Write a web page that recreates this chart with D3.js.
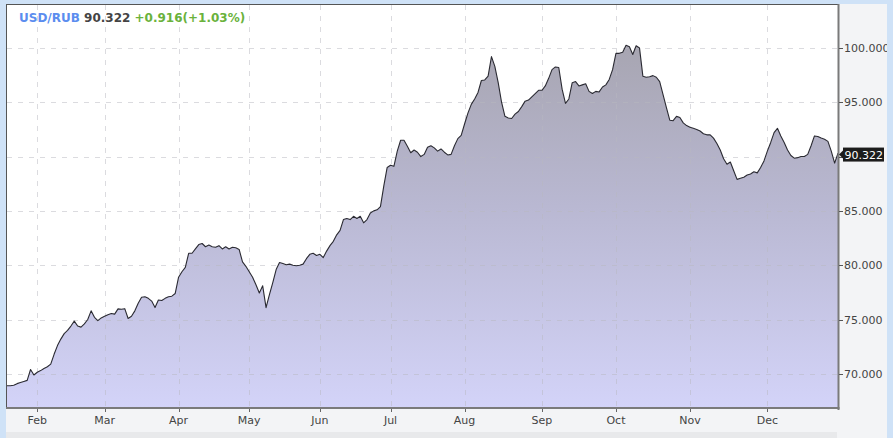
<!DOCTYPE html>
<html><head><meta charset="utf-8">
<script src="https://cdn.jsdelivr.net/npm/d3@7"></script>
<style>body{margin:0;background:#cfe2f7;overflow:hidden} svg{display:block}</style>
</head><body><svg id="c" width="893" height="438"></svg>
<script>
const pair = "USD/RUB";
const lastPrice = "90.322";
const change = "+0.916(+1.03%)";
const yearLabel = "2023";
const monthLabels = ["Jan","Feb","Mar","Apr","May","Jun","Jul","Aug","Sep","Oct","Nov","Dec"];
const jan = [68.9, 68.9, 68.95, 69.1, 69.2, 69.3, 69.4, 70.4, 69.9];
const feb = [70.15, 70.3, 70.5, 70.65, 70.9, 71.8, 72.6, 73.2, 73.7, 74.0, 74.4, 74.85, 74.4, 74.3, 74.6, 75.0, 75.8, 75.2, 74.9, 75.15];
const mar = [75.3, 75.45, 75.55, 75.5, 75.98, 75.95, 76.0, 75.1, 75.3, 75.8, 76.5, 77.05, 77.1, 76.95, 76.7, 76.1, 76.8, 76.75, 76.95, 77.1, 77.15, 77.4];
const apr = [78.9, 79.4, 79.8, 81.1, 81.1, 81.5, 81.9, 82.0, 81.7, 81.85, 81.7, 81.65, 81.8, 81.5, 81.7, 81.5, 81.65, 81.6, 81.45, 80.3, 79.9];
const may = [79.4, 78.9, 78.2, 77.45, 78.1, 76.1, 77.3, 78.4, 79.6, 80.25, 80.15, 80.05, 80.1, 80.0, 79.95, 80.0, 80.1, 80.6, 81.0, 81.1, 80.9];
const jun = [81.0, 80.7, 81.3, 81.8, 82.2, 82.8, 83.2, 84.2, 84.3, 84.2, 84.5, 84.3, 84.5, 83.9, 84.2, 84.8, 85.0, 85.1, 85.4, 87.3, 89.0];
const jul = [89.2, 89.1, 90.5, 91.5, 91.5, 90.95, 90.35, 90.6, 90.4, 90.0, 90.2, 90.85, 91.0, 90.8, 90.5, 90.7, 90.4, 90.15, 90.2, 91.0, 91.65, 91.95];
const aug = [93.0, 94.0, 94.8, 95.3, 95.9, 97.0, 97.05, 97.4, 99.2, 98.3, 96.8, 95.0, 93.7, 93.55, 93.5, 93.9, 94.15, 94.6, 95.1, 95.2, 95.5, 95.8, 96.1];
const sep = [96.1, 96.5, 97.2, 98.0, 98.25, 98.2, 96.2, 94.9, 95.3, 96.8, 96.9, 96.5, 96.6, 96.7, 96.0, 95.8, 96.0, 95.95, 96.4, 96.6, 97.1, 98.0];
const oct = [99.5, 99.5, 99.6, 100.25, 100.1, 99.4, 100.2, 100.0, 97.4, 97.3, 97.35, 97.45, 97.3, 96.9, 95.7, 94.5, 93.35, 93.3, 93.7, 93.6, 93.1, 92.85];
const nov = [92.7, 92.6, 92.5, 92.35, 92.1, 92.0, 92.0, 91.7, 91.2, 90.6, 89.8, 89.3, 89.5, 88.7, 87.9, 88.0, 88.1, 88.3, 88.4, 88.6, 88.5, 89.0, 89.6];
const dec = [90.5, 91.3, 92.2, 92.6, 91.9, 91.3, 90.6, 90.1, 89.85, 89.9, 90.0, 90.0, 90.2, 91.0, 91.9, 91.85, 91.7, 91.6, 91.4, 90.5, 89.4, 90.322];
const yTicks = [70, 75, 80, 85, 90, 95, 100];

const months = [jan, feb, mar, apr, may, jun, jul, aug, sep, oct, nov, dec];
const data = [];
const monthStarts = [];
months.forEach((arr, m) => {
  monthStarts.push({label: monthLabels[m], i: data.length});
  arr.forEach(v => data.push({i: data.length, v}));
});
const N = data.length;
const last = data[N - 1];

const svg = d3.select("#c");
const W = 893, H = 438;
const L = 7, R = 838, T = 5, B = 407;
const FONT = "DejaVu Sans, sans-serif";

const x = d3.scaleLinear().domain([0, N - 1]).range([L, R]);
const y = d3.scaleLinear().domain([66.95, 103.95]).range([B, T]);

// panels
svg.append("rect").attr("x", 0).attr("y", 0).attr("width", W).attr("height", H).attr("fill", "#cfe2f7");
svg.append("rect").attr("x", 6).attr("y", 4).attr("width", 881).attr("height", H - 4).attr("fill", "#f3f4f6");
svg.append("rect").attr("x", 6).attr("y", 432).attr("width", 831).attr("height", 6).attr("fill", "#e8e9eb");
svg.append("rect").attr("x", L).attr("y", T).attr("width", R - L).attr("height", B - T).attr("fill", "#ffffff");

const defs = svg.append("defs");
const grad = defs.append("linearGradient").attr("id", "g").attr("gradientUnits", "userSpaceOnUse")
  .attr("x1", 0).attr("x2", 0).attr("y1", y(100.5)).attr("y2", B);
grad.append("stop").attr("offset", "0%").attr("stop-color", "#a7a5b1");
grad.append("stop").attr("offset", "45%").attr("stop-color", "#b9b8d2");
grad.append("stop").attr("offset", "100%").attr("stop-color", "#d3d3f8");
defs.append("clipPath").attr("id", "clip").append("rect")
  .attr("x", L).attr("y", T).attr("width", R - L).attr("height", B - T);

const area = d3.area().x(d => x(d.i)).y0(B).y1(d => y(d.v));
const line = d3.line().x(d => x(d.i)).y(d => y(d.v));

const plot = svg.append("g").attr("clip-path", "url(#clip)");
plot.append("path").datum(data).attr("d", area).attr("fill", "url(#g)");

// grid
const ticksM = monthStarts.slice(1);
plot.selectAll(".vg").data(ticksM).join("line")
  .attr("x1", d => Math.round(x(d.i)) + 0.5).attr("x2", d => Math.round(x(d.i)) + 0.5)
  .attr("y1", T).attr("y2", B)
  .attr("stroke", "#b8b8c0").attr("stroke-opacity", 0.5).attr("stroke-dasharray", "5,6");
plot.selectAll(".hg").data(yTicks).join("line")
  .attr("x1", L).attr("x2", R)
  .attr("y1", d => Math.round(y(d)) + 0.5).attr("y2", d => Math.round(y(d)) + 0.5)
  .attr("stroke", "#b8b8c0").attr("stroke-opacity", 0.5).attr("stroke-dasharray", "5,6");

plot.append("path").datum(data).attr("d", line).attr("fill", "none")
  .attr("stroke", "#2a2a32").attr("stroke-width", 1.1).attr("stroke-linejoin", "round");

// borders
svg.append("line").attr("x1", 6).attr("x2", R + 1).attr("y1", 4.5).attr("y2", 4.5).attr("stroke", "#555").attr("stroke-width", 1);
svg.append("line").attr("x1", 6.5).attr("x2", 6.5).attr("y1", 4).attr("y2", B + 2).attr("stroke", "#555").attr("stroke-width", 1);
svg.append("line").attr("x1", R + 0.5).attr("x2", R + 0.5).attr("y1", 4).attr("y2", B + 3).attr("stroke", "#7a7a7a").attr("stroke-width", 2);
svg.append("line").attr("x1", 6).attr("x2", R + 1.5).attr("y1", B + 1).attr("y2", B + 1).attr("stroke", "#7a7a7a").attr("stroke-width", 2);

// x axis
const xAxis = svg.append("g");
xAxis.selectAll("line").data(ticksM).join("line")
  .attr("x1", d => Math.round(x(d.i)) + 0.5).attr("x2", d => Math.round(x(d.i)) + 0.5)
  .attr("y1", B + 2).attr("y2", B + 5).attr("stroke", "#666");
xAxis.selectAll("text").data(ticksM).join("text")
  .attr("x", d => x(d.i)).attr("y", 424).attr("text-anchor", "middle")
  .attr("font-family", FONT).attr("font-size", 11).attr("fill", "#444").text(d => d.label);
svg.append("text").attr("x", 419).attr("y", 446).attr("text-anchor", "middle")
  .attr("font-family", FONT).attr("font-size", 11).attr("fill", "#555").text(yearLabel);

// y axis (the tick label hidden under the current-value marker is not drawn)
const yAxis = svg.append("g");
yAxis.selectAll("line").data(yTicks).join("line")
  .attr("x1", R + 1).attr("x2", R + 5)
  .attr("y1", d => Math.round(y(d)) + 0.5).attr("y2", d => Math.round(y(d)) + 0.5).attr("stroke", "#555");
yAxis.selectAll("text").data(yTicks.filter(d => Math.abs(y(d) - y(last.v)) > 12)).join("text")
  .attr("x", R + 6).attr("y", d => y(d) + 4)
  .attr("font-family", FONT).attr("font-size", 11).attr("fill", "#444").text(d => d3.format(".3f")(d));

// right blue strip (clips overflowing labels)
svg.append("rect").attr("x", 887).attr("y", 0).attr("width", 6).attr("height", H).attr("fill", "#cfe2f7");

// current value marker
const ly = y(last.v) + 1.5;
svg.append("path").attr("d", `M${R + 1},${ly} L${R + 5},${ly - 4} L${R + 5},${ly + 4} Z`).attr("fill", "#1c1c1c");
svg.append("rect").attr("x", R + 5).attr("y", ly - 7).attr("width", 41).attr("height", 14).attr("fill", "#1c1c1c");
svg.append("text").attr("x", R + 6.5).attr("y", ly + 4).attr("font-family", FONT).attr("font-size", 11)
  .attr("fill", "#ffffff").text(lastPrice);

// title
const t = svg.append("text").attr("x", 19).attr("y", 22).attr("font-family", FONT)
  .attr("font-size", 12).attr("font-weight", "bold");
t.append("tspan").attr("fill", "#5b8def").text(pair + " ");
t.append("tspan").attr("fill", "#444").text(lastPrice + " ");
t.append("tspan").attr("fill", "#6ab23c").text(change);
</script>
</body></html>
